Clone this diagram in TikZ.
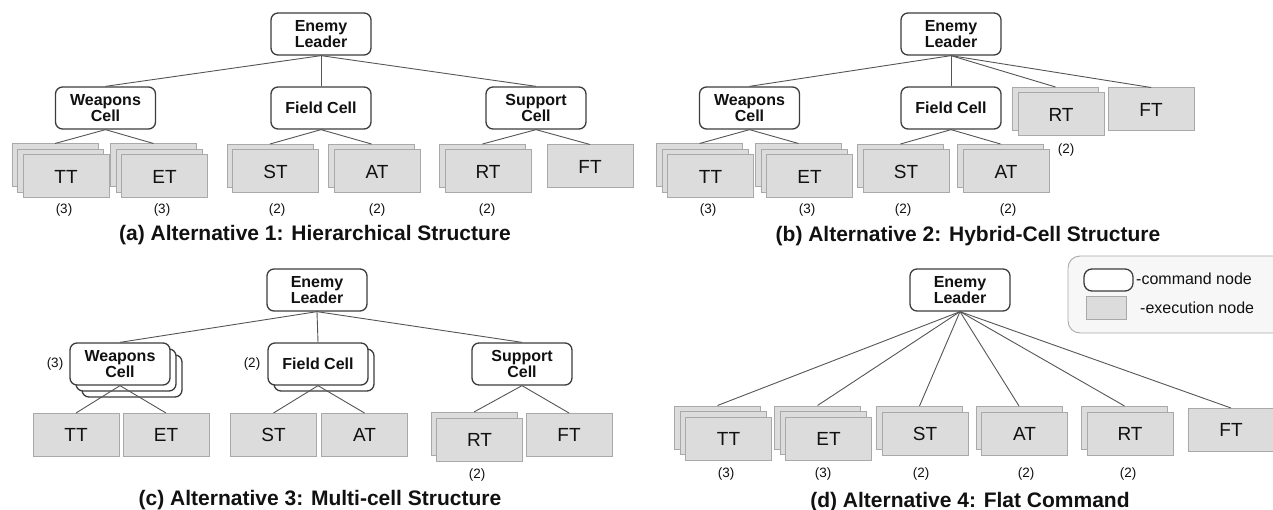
\documentclass[tikz,border=0pt]{standalone}
\usepackage{fontspec}
\setmainfont{Liberation Sans}
\usepackage{tikz}
\usetikzlibrary{shadows}
\definecolor{ink}{HTML}{111111}
\definecolor{edge1}{HTML}{3C3C3C}
\definecolor{wire}{HTML}{555555}
\definecolor{grey1}{HTML}{A9A9A9}
\definecolor{grey2}{HTML}{DCDCDC}
\definecolor{grey3}{HTML}{F7F7F7}
\newcommand{\cellfont}{\bfseries\fontsize{16}{16}\selectfont}
\newcommand{\exefont}{\fontsize{19}{19}\selectfont}
\newcommand{\cntfont}{\fontsize{13.5}{14}\selectfont}
\newcommand{\capfont}{\bfseries\fontsize{21}{21}\selectfont}
\newcommand{\legfont}{\fontsize{16}{16}\selectfont}

\begin{document}
\begin{tikzpicture}[x=1pt,y=-1pt,text=ink,
  cmd/.style={draw=edge1,line width=1.3pt,rounded corners=7pt,fill=white,minimum width=100pt,minimum height=42pt,inner sep=0pt,align=center,font=\cellfont},
  exe/.style={draw=grey1,line width=1pt,fill=grey2,minimum width=86pt,minimum height=43pt,inner sep=0pt,font=\exefont},
  two/.style={copy shadow={shadow xshift=-5.5pt,shadow yshift=5.5pt}},
  three/.style={copy shadow={shadow xshift=-11pt,shadow yshift=11pt},copy shadow={shadow xshift=-5.5pt,shadow yshift=5.5pt}},
  ctwo/.style={copy shadow={shadow xshift=6pt,shadow yshift=-6pt}},
  cthree/.style={copy shadow={shadow xshift=12pt,shadow yshift=-12pt},copy shadow={shadow xshift=6pt,shadow yshift=-6pt}},
  link/.style={draw=wire,line width=0.9pt},
  cnt/.style={font=\cntfont,inner sep=0pt},
  captxt/.style={font=\capfont,inner sep=0pt}]
  \useasboundingbox (0,0) rectangle (1273,510);

  % (a) hierarchical
  \node[cmd] (lead-a) at (321,34) {Enemy\\Leader};
  \node[cmd] (wc-a) at (105.5,108) {Weapons\\Cell};
  \node[cmd] (fc-a) at (321,108) {Field Cell};
  \node[cmd] (sc-a) at (536,108) {Support\\Cell};
  \node[exe,three] (tt-a) at (66,176.5) {TT};
  \node[exe,three] (et-a) at (164.5,176.5) {ET};
  \node[exe,two] (st-a) at (275.5,171.5) {ST};
  \node[exe,two] (at-a) at (377,171.5) {AT};
  \node[exe,two] (rt-a) at (488,171.5) {RT};
  \node[exe] (ft-a) at (590,166.5) {FT};
  \foreach \cell in {wc-a,fc-a,sc-a} \draw[link] (lead-a.south) -- (\cell.north);
  \draw[link] (wc-a.south) -- ([xshift=-11pt,yshift=11pt]tt-a.north);
  \draw[link] (wc-a.south) -- ([xshift=-11pt,yshift=11pt]et-a.north);
  \draw[link] (fc-a.south) -- ([xshift=-5.5pt,yshift=5.5pt]st-a.north);
  \draw[link] (fc-a.south) -- ([xshift=-5.5pt,yshift=5.5pt]at-a.north);
  \draw[link] (sc-a.south) -- ([xshift=-5.5pt,yshift=5.5pt]rt-a.north);
  \draw[link] (sc-a.south) -- (ft-a.north);
  \node[cnt] (k-tt-a) at (64,210) {(3)};
  \node[cnt] (k-et-a) at (162,210) {(3)};
  \node[cnt] (k-st-a) at (277,210) {(2)};
  \node[cnt] (k-at-a) at (377,210) {(2)};
  \node[cnt] (k-rt-a) at (487,210) {(2)};
  \node[captxt] (cap-a) at (315,235) {(a) Alternative 1: Hierarchical Structure};

  % (b) hybrid-cell
  \node[cmd] (lead-b) at (951,34) {Enemy\\Leader};
  \node[cmd] (wc-b) at (749.5,108) {Weapons\\Cell};
  \node[cmd] (fc-b) at (951,108) {Field Cell};
  \node[exe,three] (tt-b) at (710.5,176.5) {TT};
  \node[exe,three] (et-b) at (809.5,176.5) {ET};
  \node[exe,two] (st-b) at (906,171.5) {ST};
  \node[exe,two] (at-b) at (1006,171.5) {AT};
  \node[exe,two] (rt-b) at (1061,114.5) {RT};
  \node[exe] (ft-b) at (1151,109.5) {FT};
  \foreach \cell in {wc-b,fc-b} \draw[link] (lead-b.south) -- (\cell.north);
  \draw[link] (lead-b.south) -- ([xshift=-5.5pt,yshift=5.5pt]rt-b.north);
  \draw[link] (lead-b.south) -- (ft-b.north);
  \draw[link] (wc-b.south) -- ([xshift=-11pt,yshift=11pt]tt-b.north);
  \draw[link] (wc-b.south) -- ([xshift=-11pt,yshift=11pt]et-b.north);
  \draw[link] (fc-b.south) -- ([xshift=-5.5pt,yshift=5.5pt]st-b.north);
  \draw[link] (fc-b.south) -- ([xshift=-5.5pt,yshift=5.5pt]at-b.north);
  \node[cnt] (k-tt-b) at (708,210) {(3)};
  \node[cnt] (k-et-b) at (807,210) {(3)};
  \node[cnt] (k-st-b) at (903,210) {(2)};
  \node[cnt] (k-at-b) at (1008,210) {(2)};
  \node[cnt] (k-rt-b) at (1066,150) {(2)};
  \node[captxt] (cap-b) at (968,236) {(b) Alternative 2: Hybrid-Cell Structure};

  % (c) multi-cell
  \node[cmd] (lead-c) at (317,290) {Enemy\\Leader};
  \node[cmd,cthree] (wc-c) at (120,364) {Weapons\\Cell};
  \node[cmd,ctwo] (fc-c) at (318,364) {Field Cell};
  \node[cmd] (sc-c) at (522,364) {Support\\Cell};
  \node[cnt] (k-wc-c) at (55,364) {(3)};
  \node[cnt] (k-fc-c) at (252,364) {(2)};
  \node[exe] (tt-c) at (76,435) {TT};
  \node[exe] (et-c) at (166,435) {ET};
  \node[exe] (st-c) at (273.5,435) {ST};
  \node[exe] (at-c) at (364.5,435) {AT};
  \node[exe,two] (rt-c) at (479.5,439.5) {RT};
  \node[exe] (ft-c) at (569,435) {FT};
  \foreach \cell in {wc-c,fc-c,sc-c} \draw[link] (lead-c.south) -- (\cell.north);
  \draw[link] (wc-c.south) -- (tt-c.north);
  \draw[link] (wc-c.south) -- (et-c.north);
  \draw[link] (fc-c.south) -- (st-c.north);
  \draw[link] (fc-c.south) -- (at-c.north);
  \draw[link] (sc-c.south) -- ([xshift=-5.5pt,yshift=5.5pt]rt-c.north);
  \draw[link] (sc-c.south) -- (ft-c.north);
  \node[cnt] (k-rt-c) at (477,475) {(2)};
  \node[captxt] (cap-c) at (320,500) {(c) Alternative 3: Multi-cell Structure};

  % (d) flat
  \node[cmd] (lead-d) at (960,290) {Enemy\\Leader};
  \node[exe,three] (tt-d) at (728.5,438.5) {TT};
  \node[exe,three] (et-d) at (828.5,438.5) {ET};
  \node[exe,two] (st-d) at (925,433.5) {ST};
  \node[exe,two] (at-d) at (1024.5,433.5) {AT};
  \node[exe,two] (rt-d) at (1130,433.5) {RT};
  \node[exe] (ft-d) at (1231,430) {FT};
  \foreach \t in {tt-d,et-d} \draw[link] (lead-d.south) -- ([xshift=-11pt,yshift=11pt]\t.north);
  \foreach \t in {st-d,at-d,rt-d} \draw[link] (lead-d.south) -- ([xshift=-5.5pt,yshift=5.5pt]\t.north);
  \draw[link] (lead-d.south) -- (ft-d.north);
  \node[cnt] (k-tt-d) at (726,474) {(3)};
  \node[cnt] (k-et-d) at (823,474) {(3)};
  \node[cnt] (k-st-d) at (921,474) {(2)};
  \node[cnt] (k-at-d) at (1026,474) {(2)};
  \node[cnt] (k-rt-d) at (1128,474) {(2)};
  \node[captxt] (cap-d) at (970,502) {(d) Alternative 4: Flat Command};

  % key
  \draw[draw=grey1,fill=grey3,rounded corners=12pt,line width=0.9pt] (1068,256) rectangle (1290,333);
  \node[cmd,minimum width=49pt,minimum height=22pt,rounded corners=8pt] (key-cmd) at (1108.5,280) {};
  \node[exe,minimum width=40pt,minimum height=22pt] (key-exe) at (1106,308) {};
  \node[anchor=west,font=\legfont,inner sep=0pt] (key-cmd-t) at (1136,279) {-command node};
  \node[anchor=west,font=\legfont,inner sep=0pt] (key-exe-t) at (1140,308) {-execution node};
\end{tikzpicture}
\end{document}
